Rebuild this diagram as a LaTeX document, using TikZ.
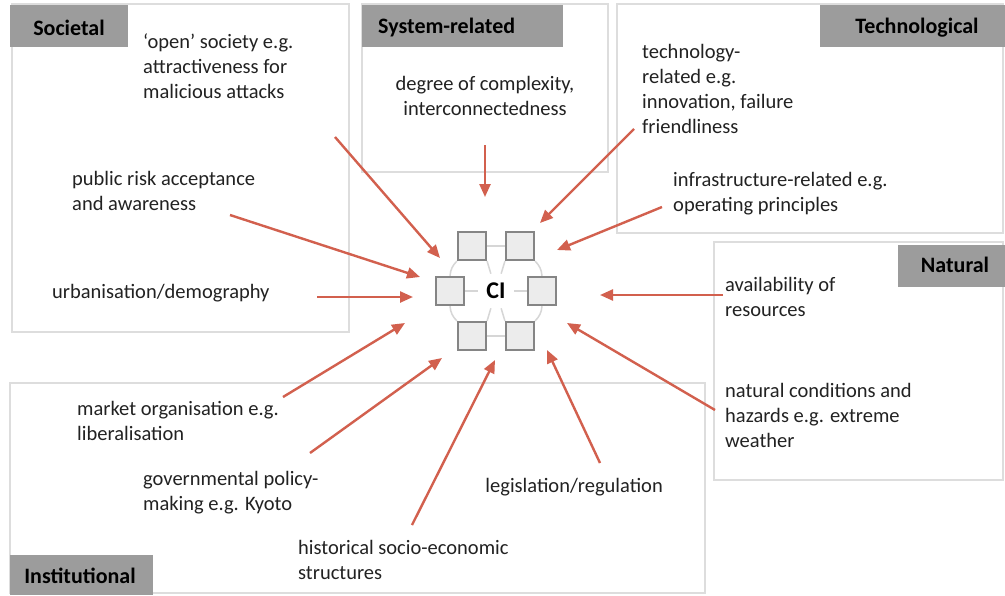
\documentclass[tikz,border=0pt]{standalone}
\usepackage{fontspec}
\setmainfont{Carlito}
\usetikzlibrary{arrows.meta}
\definecolor{boxline}{HTML}{DDDDDD}
\definecolor{labelgrey}{HTML}{9C9C9C}
\definecolor{arrowred}{HTML}{D2604E}
\definecolor{sqfill}{HTML}{ECECEC}
\definecolor{sqline}{HTML}{858585}
\definecolor{hexline}{HTML}{D6D6D6}
\definecolor{txt}{HTML}{222222}
\begin{document}
\begin{tikzpicture}[x=1pt,y=-1pt,
  areabox/.style={draw=boxline,line width=1.6pt},
  labelbox/.style={fill=labelgrey,draw=none},
  labeltext/.style={font=\fontsize{22}{24}\selectfont\bfseries,text=black,inner sep=0pt},
  factor/.style={font=\fontsize{20.5}{25}\selectfont,text=txt,inner sep=0pt,align=left},
  arr/.style={draw=arrowred,line width=2.4pt,-{Triangle[length=13pt,width=11pt]}},
  sq/.style={draw=sqline,fill=sqfill,line width=2.2pt,minimum size=28pt,inner sep=0pt},
  hex/.style={draw=hexline,line width=1.5pt}]
\useasboundingbox (0,0) rectangle (1005,595);
\fill[white] (0,0) rectangle (1005,595);
% area boxes
\draw[areabox] (12,4) rectangle (349,332);
\draw[areabox] (362,4) rectangle (608,172);
\draw[areabox] (617,4) rectangle (1003,233);
\draw[areabox] (714,242) rectangle (1003,480);
\draw[areabox] (10,383) rectangle (705,593);
% labels
\fill[labelbox] (10,5) rectangle (128,47);
\fill[labelbox] (362,5) rectangle (563,47);
\fill[labelbox] (820,5) rectangle (1005,47);
\fill[labelbox] (898,245) rectangle (1005,287);
\fill[labelbox] (10,555) rectangle (153,595);
\node[labeltext] (lsoc) at (69,28) {Societal};
\node[labeltext,anchor=west] (lsys) at (378,28) {System-related};
\node[labeltext] (ltec) at (917,28) {Technological};
\node[labeltext] (lnat) at (955,265) {Natural};
\node[labeltext] (linst) at (80,576) {Institutional};
% CI cluster
\node[sq] (tl) at (472,246) {};
\node[sq] (tr) at (520,246) {};
\node[sq] (ml) at (450,291) {};
\node[sq] (mr) at (542,291) {};
\node[sq] (bl) at (472,336) {};
\node[sq] (br) at (520,336) {};
\coordinate (cc) at (496,291);
\draw[hex] (tl) -- (tr);
\draw[hex] (bl) -- (br);
\draw[hex] (tl.south west) to[bend right=20] (ml.north);
\draw[hex] (ml.south) to[bend right=20] (bl.north west);
\draw[hex] (tr.south east) to[bend left=20] (mr.north);
\draw[hex] (mr.south) to[bend left=20] (br.north east);
\draw[hex] (tl.south east) -- (br.north west);
\draw[hex] (tr.south west) -- (bl.north east);
\draw[hex] (ml.east) -- (mr.west);
\node[sq] at (tl) {};
\node[sq] at (tr) {};
\node[sq] at (ml) {};
\node[sq] at (mr) {};
\node[sq] at (bl) {};
\node[sq] at (br) {};
\node[circle,fill=white,inner sep=2pt,minimum size=36pt,font=\fontsize{24}{26}\selectfont\bfseries] (ci) at (cc) {CI};
% factor texts
\node[factor,anchor=west] (open) at (143,66) {‘open’ society e.g.\\attractiveness for\\malicious attacks};
\node[factor,anchor=west] (pub) at (72,191) {public risk acceptance\\and awareness};
\node[factor,anchor=west] (urb) at (52,293) {urbanisation/demography};
\node[factor,align=center] (deg) at (485,96) {degree of complexity,\\interconnectedness};
\node[factor,anchor=west] (tech) at (642,89) {technology-\\related e.g.\\innovation, failure\\friendliness};
\node[factor,anchor=west] (infra) at (673,194) {infrastructure-related e.g.\\operating principles};
\node[factor,anchor=west] (avail) at (725,297) {availability of\\resources};
\node[factor,anchor=west] (haz) at (725,415) {natural conditions and\\hazards e.g. extreme\\weather};
\node[factor,anchor=east] (leg) at (663,487) {legislation/regulation};
\node[factor,anchor=west] (hist) at (298,560) {historical socio-economic\\structures};
\node[factor,anchor=west] (gov) at (143,493) {governmental policy-\\making e.g. Kyoto};
\node[factor,anchor=west] (mkt) at (77,421) {market organisation e.g.\\liberalisation};
% arrow endpoints
\coordinate (s1) at (335,137);  \coordinate (t1) at (440,258);
\coordinate (s2) at (230,215);  \coordinate (t2) at (420,277);
\coordinate (s3) at (317,297);  \coordinate (t3) at (413,297);
\coordinate (s4) at (283,397);  \coordinate (t4) at (405,323);
\coordinate (s5) at (310,453);  \coordinate (t5) at (442,358);
\coordinate (s6) at (412,525);  \coordinate (t6) at (495,360);
\coordinate (s7) at (600,463);  \coordinate (t7) at (547,350);
\coordinate (s8) at (715,410);  \coordinate (t8) at (567,323);
\coordinate (s9) at (723,295);  \coordinate (t9) at (600,295);
\coordinate (s10) at (662,207); \coordinate (t10) at (557,250);
\coordinate (s11) at (634,129); \coordinate (t11) at (540,223);
\coordinate (s12) at (485,145); \coordinate (t12) at (485,197);
\foreach \i in {1,...,12} {\draw[arr] (s\i) -- (t\i);}
\end{tikzpicture}
\end{document}
